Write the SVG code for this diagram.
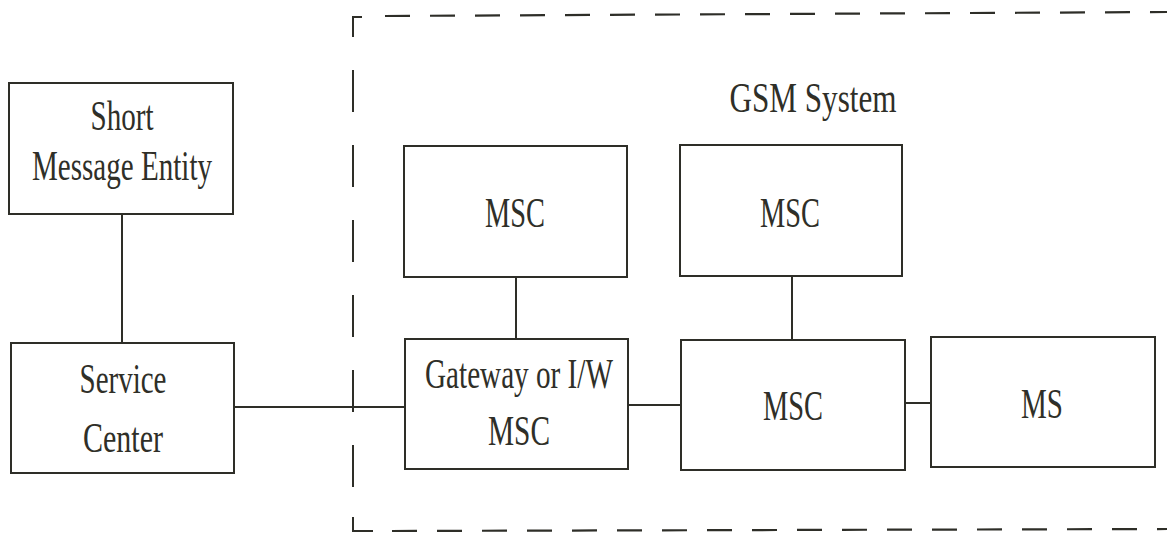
<svg xmlns="http://www.w3.org/2000/svg" width="1167" height="537" viewBox="0 0 1167 537">
<style>
.box{fill:none;stroke:#2e2e28;stroke-width:2}
.ln{fill:none;stroke:#2e2e28;stroke-width:2}
.dh{fill:none;stroke:#2e2e28;stroke-width:2.2;stroke-dasharray:25 20}
.dv{fill:none;stroke:#2e2e28;stroke-width:2;stroke-dasharray:42 33}
text{font-family:"Liberation Serif","Times New Roman",serif;font-size:43px;fill:#2f2f28;text-anchor:middle}
</style>
<rect width="1167" height="537" fill="#ffffff"/>
<g id="gsm-boundary">
<path class="ln" d="M353,37 V17 H362"/>
<line class="dh" x1="385" y1="16" x2="1167" y2="12"/>
<line class="dv" x1="353" y1="70" x2="353" y2="490"/>
<path class="ln" d="M353,517 V531 H373"/>
<line class="dh" x1="392" y1="531" x2="1167" y2="529"/>
<text x="813" y="112" textLength="167" lengthAdjust="spacingAndGlyphs">GSM System</text>
</g>
<g id="connectors">
<line class="ln" x1="122" y1="214" x2="122" y2="343"/>
<line class="ln" x1="234" y1="407" x2="405" y2="407"/>
<line class="ln" x1="516" y1="277" x2="516" y2="339"/>
<line class="ln" x1="792" y1="276" x2="792" y2="340"/>
<line class="ln" x1="628" y1="405" x2="681" y2="405"/>
<line class="ln" x1="905" y1="403" x2="931" y2="403"/>
</g>
<g id="sme">
<rect class="box" x="9" y="83" width="224" height="131"/>
<text x="122" y="130" textLength="63" lengthAdjust="spacingAndGlyphs">Short</text>
<text x="122" y="180" textLength="180" lengthAdjust="spacingAndGlyphs">Message Entity</text>
</g>
<g id="service-center">
<rect class="box" x="11" y="343" width="223" height="130"/>
<text x="123" y="393" textLength="87" lengthAdjust="spacingAndGlyphs">Service</text>
<text x="123" y="452" textLength="80" lengthAdjust="spacingAndGlyphs">Center</text>
</g>
<g id="msc-top-left">
<rect class="box" x="404" y="146" width="223" height="131"/>
<text x="515" y="227" textLength="60" lengthAdjust="spacingAndGlyphs">MSC</text>
</g>
<g id="msc-top-right">
<rect class="box" x="680" y="145" width="222" height="131"/>
<text x="790" y="227" textLength="60" lengthAdjust="spacingAndGlyphs">MSC</text>
</g>
<g id="gateway-msc">
<rect class="box" x="405" y="339" width="223" height="130"/>
<text x="519" y="388" textLength="188" lengthAdjust="spacingAndGlyphs">Gateway or I/W</text>
<text x="519" y="445" textLength="62" lengthAdjust="spacingAndGlyphs">MSC</text>
</g>
<g id="msc-middle">
<rect class="box" x="681" y="340" width="224" height="130"/>
<text x="793" y="420" textLength="60" lengthAdjust="spacingAndGlyphs">MSC</text>
</g>
<g id="ms">
<rect class="box" x="931" y="337" width="224" height="130"/>
<text x="1042" y="418" textLength="42" lengthAdjust="spacingAndGlyphs">MS</text>
</g>
</svg>
